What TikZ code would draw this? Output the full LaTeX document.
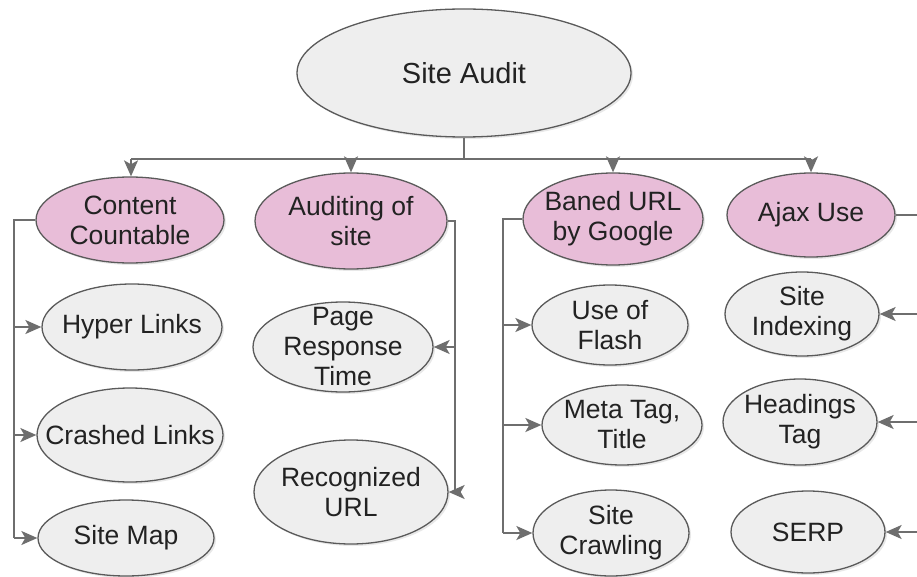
\documentclass[tikz,border=0pt]{standalone}
\usepackage{fontspec}
\setmainfont{Liberation Sans}
\usetikzlibrary{arrows.meta,shapes.geometric,shadows}
\definecolor{pinkfill}{HTML}{E8BDD8}
\definecolor{grayfill}{HTML}{EEEEEE}
\definecolor{edge}{HTML}{5A5A5A}
\definecolor{wire}{HTML}{6E6E6E}
\definecolor{ink}{HTML}{222222}
\begin{document}
\begin{tikzpicture}[x=1pt,y=-1pt,
  bubble/.style={ellipse,draw=edge,line width=1.3pt,inner sep=0pt,
    drop shadow={opacity=0.18,shadow xshift=2pt,shadow yshift=-2pt}},
  topic/.style={bubble,fill=pinkfill},
  leaf/.style={bubble,fill=grayfill},
  caption/.style={align=center,text=ink,inner sep=0pt,font=\fontsize{26.5}{30}\selectfont},
  conn/.style={draw=wire,line width=1.8pt},
  arr/.style={conn,-{Stealth[length=16pt,width=14pt,inset=4pt]}}]
\useasboundingbox (0,0) rectangle (917,577);

% root
\node[leaf,minimum width=334pt,minimum height=128pt] (root) at (464,73) {};
\node[caption,font=\fontsize{29}{33}\selectfont] (root-t) at (root.center) {Site Audit};

% second level
\node[topic,minimum width=188pt,minimum height=86pt] (cc) at (130,220) {};
\node[caption] (cc-t) at (cc.center) {Content\\Countable};
\node[topic,minimum width=192pt,minimum height=96pt] (aud) at (351,221) {};
\node[caption] (aud-t) at (aud.center) {Auditing of\\site};
\node[topic,minimum width=180pt,minimum height=92pt] (ban) at (613,219) {};
\node[caption] (ban-t) at (ban.center) {Baned URL\\by Google};
\node[topic,minimum width=168pt,minimum height=84pt] (ajax) at (811,215) {};
\node[caption] (ajax-t) at (ajax.center) {Ajax Use};

% leaves
\node[leaf,minimum width=180pt,minimum height=86pt] (hl) at (132,327) {};
\node[caption] (hl-t) at (hl.center) {Hyper Links};
\node[leaf,minimum width=186pt,minimum height=94pt] (cl) at (130,435) {};
\node[caption] (cl-t) at (cl.center) {Crashed Links};
\node[leaf,minimum width=176pt,minimum height=76pt] (sm) at (126,538) {};
\node[caption] (sm-t) at (sm.center) {Site Map};

\node[leaf,minimum width=180pt,minimum height=90pt] (prt) at (343,347) {};
\node[caption] (prt-t) at (prt.center) {Page\\Response\\Time};
\node[leaf,minimum width=194pt,minimum height=104pt] (ru) at (351,492) {};
\node[caption] (ru-t) at (ru.center) {Recognized\\URL};

\node[leaf,minimum width=156pt,minimum height=80pt] (uf) at (610,325) {};
\node[caption] (uf-t) at (uf.center) {Use of\\Flash};
\node[leaf,minimum width=160pt,minimum height=80pt] (mt) at (622,425) {};
\node[caption] (mt-t) at (mt.center) {Meta Tag,\\Title};
\node[leaf,minimum width=156pt,minimum height=86pt] (sc) at (611,533) {};
\node[caption] (sc-t) at (sc.center) {Site\\Crawling};

\node[leaf,minimum width=154pt,minimum height=84pt] (si) at (802,314) {};
\node[caption] (si-t) at (si.center) {Site\\Indexing};
\node[leaf,minimum width=154pt,minimum height=86pt] (ht) at (800,422) {};
\node[caption] (ht-t) at (ht.center) {Headings\\Tag};
\node[leaf,minimum width=154pt,minimum height=82pt] (serp) at (808,532) {};
\node[caption] (serp-t) at (serp.center) {SERP};

% bus from the root to the four topics
\draw[conn] (root.south) -- ++(0,21) coordinate (bus);
\coordinate (busL) at (131,0);
\draw[conn] (busL |- bus) -- (ajax.north |- bus);
\draw[arr] (busL |- bus) -- (busL |- cc.north);
\draw[arr] (aud.north |- bus) -- (aud.north);
\draw[arr] (ban.north |- bus) -- (ban.north);
\draw[arr] (ajax.north |- bus) -- (ajax.north);

% Content Countable branch
\coordinate (tA) at (14,0);
\draw[conn] (cc.west) -- (tA |- cc.west) -- (tA |- sm.west);
\draw[arr] (tA |- hl.west) -- (hl.west);
\draw[arr] (tA |- cl.west) -- (cl.west);
\draw[arr] (tA |- sm.west) -- (sm.west);

% Auditing of site branch
\coordinate (tB) at (455,0);
\draw[conn] (aud.east) -- (tB |- aud.east) -- (tB |- ru.east);
\draw[arr] (tB |- prt.east) -- (prt.east);
\draw[arr] (tB |- ru.east) -- (ru.east);

% Baned URL branch
\coordinate (tC) at (503,0);
\draw[conn] (ban.west) -- (tC |- ban.west) -- (tC |- sc.west);
\draw[arr] (tC |- uf.west) -- (uf.west);
\draw[arr] (tC |- mt.west) -- (mt.west);
\draw[arr] (tC |- sc.west) -- (sc.west);

% Ajax Use branch
\coordinate (tD) at (917,0);
\draw[conn] (ajax.east) -- (tD |- ajax.east);
\draw[arr] (tD |- si.east) -- (si.east);
\draw[arr] (tD |- ht.east) -- (ht.east);
\draw[arr] (tD |- serp.east) -- (serp.east);
\end{tikzpicture}
\end{document}
